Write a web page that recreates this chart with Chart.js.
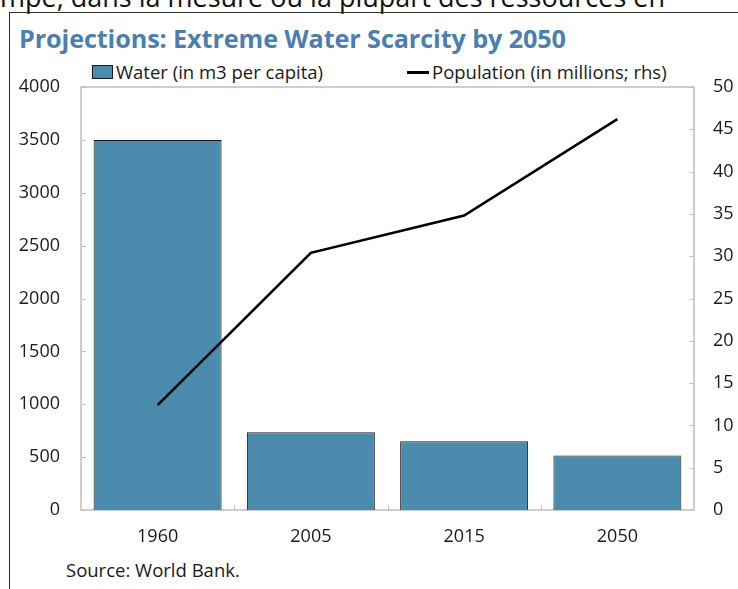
<!DOCTYPE html>
<html>
<head>
<meta charset="utf-8">
<script src="https://cdn.jsdelivr.net/npm/chart.js@4.4.1/dist/chart.umd.min.js"></script>
<style>
  html, body { margin:0; padding:0; background:#fff; }
  body { width:738px; height:589px; position:relative; overflow:hidden; font-family:"Open Sans", "Noto Sans", sans-serif; color:#1a1a1a; }
  #cut { position:absolute; left:0px; top:-22px; font-size:27px; white-space:nowrap; color:#111; }
  #frame { position:absolute; left:9px; top:12px; width:740px; height:600px; border-left:1.5px solid #333; border-top:1.5px solid #333; }
  #title { position:absolute; left:19px; top:21px; font-size:25.2px; font-weight:bold; color:#4a7fb0; white-space:nowrap; letter-spacing:-0.1px; }
  .leg { position:absolute; top:59px; font-size:18.5px; white-space:nowrap; line-height:26px; }
  .sw { display:inline-block; vertical-align:middle; }
  #source { position:absolute; left:66px; top:557px; font-size:18.5px; white-space:nowrap; }
  #wrap { position:absolute; left:0; top:0; width:738px; height:589px; }
</style>
</head>
<body>
<div id="cut">mpe, dans la mesure où la plupart des ressources en</div>
<div id="frame"></div>
<div id="title">Projections: Extreme Water Scarcity by 2050</div>
<div class="leg" id="leg1" style="left:92px;"><span class="sw" id="sw1" style="width:19px;height:12px;border:1px solid #1a1a1a;margin-right:3px;margin-top:-4px;"></span><span id="lt1"></span></div>
<div class="leg" id="leg2" style="left:407px;"><span class="sw" id="sw2" style="width:22px;height:3px;margin-right:3px;margin-top:-4px;"></span><span id="lt2"></span></div>
<div id="source">Source: World Bank.</div>
<div id="wrap"><canvas id="c" width="738" height="589"></canvas></div>
<script>
// ---- data ----
const categories = ["1960", "2005", "2015", "2050"];
const waterPerCapita = [3500, 735, 650, 515];
const populationMillions = [12.4, 30.4, 34.8, 46.2];
const leftTicks = [0, 500, 1000, 1500, 2000, 2500, 3000, 3500, 4000];
const rightTicks = [0, 5, 10, 15, 20, 25, 30, 35, 40, 45, 50];
const seriesNames = ["Water (in m3 per capita)", "Population (in millions; rhs)"];

const barColor = "#4b8bad";
const lineColor = "#000000";
const axisGray = "#bfbfbf";
const textColor = "#1a1a1a";
const FONT = "'Open Sans', 'Noto Sans', sans-serif";

document.getElementById("lt1").textContent = seriesNames[0];
document.getElementById("lt2").textContent = seriesNames[1];
document.getElementById("sw1").style.background = barColor;
document.getElementById("sw2").style.background = lineColor;

const frameTicks = {
  id: "frameTicks",
  beforeDatasetsDraw(chart) {
    const { ctx, chartArea: a, scales } = chart;
    ctx.save();
    ctx.strokeStyle = axisGray;
    ctx.lineWidth = 1.5;
    ctx.strokeRect(a.left, a.top, a.right - a.left, a.bottom - a.top);
    ctx.lineWidth = 1;
    ctx.beginPath();
    leftTicks.forEach(v => {
      const y = Math.round(scales.y.getPixelForValue(v)) + 0.5;
      ctx.moveTo(a.left, y); ctx.lineTo(a.left + 5, y);
    });
    rightTicks.forEach(v => {
      const y = Math.round(scales.y1.getPixelForValue(v)) + 0.5;
      ctx.moveTo(a.right - 5, y); ctx.lineTo(a.right, y);
    });
    for (let i = 0; i < categories.length - 1; i++) {
      const x = Math.round((scales.x.getPixelForTick(i) + scales.x.getPixelForTick(i + 1)) / 2) + 0.5;
      ctx.moveTo(x, a.bottom - 5); ctx.lineTo(x, a.bottom);
    }
    ctx.stroke();
    ctx.restore();
  }
};

const plain = v => String(v);

new Chart(document.getElementById("c"), {
  type: "bar",
  data: {
    labels: categories,
    datasets: [
      {
        type: "line",
        label: seriesNames[1],
        data: populationMillions,
        yAxisID: "y1",
        borderColor: lineColor,
        borderWidth: 2.6,
        pointRadius: 0,
        tension: 0,
        fill: false,
        order: 1
      },
      {
        type: "bar",
        label: seriesNames[0],
        data: waterPerCapita,
        yAxisID: "y",
        backgroundColor: barColor,
        borderColor: "#1a1a1a",
        borderWidth: 1,
        categoryPercentage: 1,
        barPercentage: 0.835,
        order: 2
      }
    ]
  },
  options: {
    responsive: false,
    animation: false,
    layout: { padding: { top: 87, left: 0, right: 0, bottom: 0 } },
    plugins: { legend: { display: false }, tooltip: { enabled: false }, title: { display: false } },
    scales: {
      x: {
        offset: true,
        grid: { display: false, drawTicks: false },
        border: { display: false },
        ticks: { color: textColor, font: { family: FONT, size: 18 }, padding: 16, maxRotation: 0 },
        afterFit(s) { s.height = 79; }
      },
      y: {
        position: "left",
        min: 0, max: 4000,
        grid: { display: false, drawTicks: false },
        border: { display: false },
        ticks: { stepSize: 500, color: textColor, font: { family: FONT, size: 18 }, padding: 21, callback: plain },
        afterFit(s) { s.width = 81; }
      },
      y1: {
        position: "right",
        min: 0, max: 50,
        grid: { display: false, drawTicks: false },
        border: { display: false },
        ticks: { stepSize: 5, color: textColor, font: { family: FONT, size: 18 }, padding: 19, callback: plain },
        afterFit(s) { s.width = 44; }
      }
    }
  },
  plugins: [frameTicks]
});
</script>
</body>
</html>
